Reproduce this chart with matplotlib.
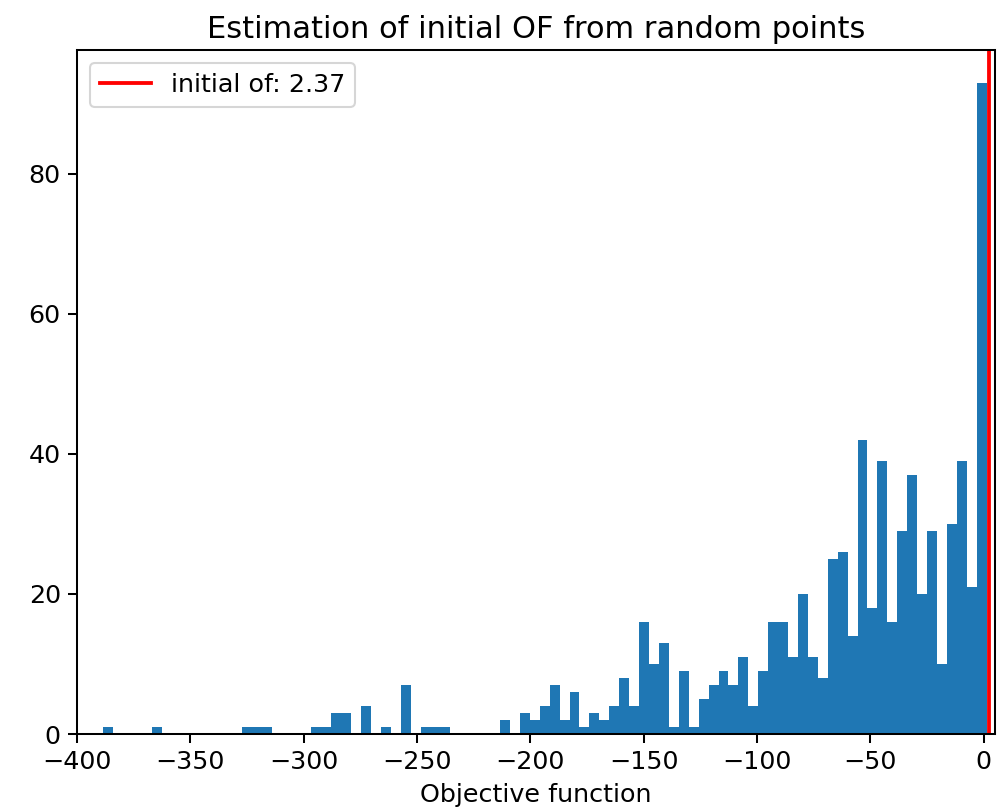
"""
Histogram of objective function values from random points
"""

import numpy as np
import matplotlib
matplotlib.use("Agg")
import matplotlib.pyplot as plt

# histogram: 89 bins between lo and hi
lo = -388.6
hi = 1.3
n_bins = 89
counts = [1, 0, 0, 0, 0, 1, 0, 0, 0, 0,
          0, 0, 0, 0, 1, 1, 1, 0, 0, 0,
          0, 1, 1, 3, 3, 0, 4, 0, 1, 0,
          7, 0, 1, 1, 1, 0, 0, 0, 0, 0,
          2, 0, 3, 2, 4, 7, 2, 6, 1, 3,
          2, 4, 8, 4, 16, 10, 13, 1, 9, 1,
          5, 7, 9, 7, 11, 4, 9, 16, 16, 11,
          20, 11, 8, 25, 26, 14, 42, 18, 39, 16,
          29, 37, 20, 29, 10, 30, 39, 21, 93]
initial_of = 2.37

# the reference looks like a default figure blown up by about 1.22
s = 1.22
plt.rcParams.update({
    "font.size": 10 * s,
    "axes.titlesize": 12 * s,
    "axes.linewidth": 0.8 * s,
    "lines.linewidth": 1.5 * s,
    "xtick.major.size": 3.5 * s,
    "ytick.major.size": 3.5 * s,
    "xtick.major.width": 0.8 * s,
    "ytick.major.width": 0.8 * s,
})


def plot_hist(counts, initial_of):
    edges = np.linspace(lo, hi, n_bins + 1)
    fig = plt.figure(figsize=(1003 / 150, 810 / 150), dpi=150)
    ax = fig.add_axes([77 / 1003, 76 / 810, 918 / 1003, 684 / 810])
    ax.hist(edges[:-1], bins=edges, weights=counts, color="#1f77b4")
    ax.axvline(initial_of, color="red", label="initial of: %.2f" % initial_of)
    ax.set_xlim(-400, 5)
    ax.set_title("Estimation of initial OF from random points")
    ax.set_xlabel("Objective function")
    ax.legend(loc="upper left")
    fig.savefig("out.png", dpi=150)


if __name__ == "__main__":
    plot_hist(counts, initial_of)
